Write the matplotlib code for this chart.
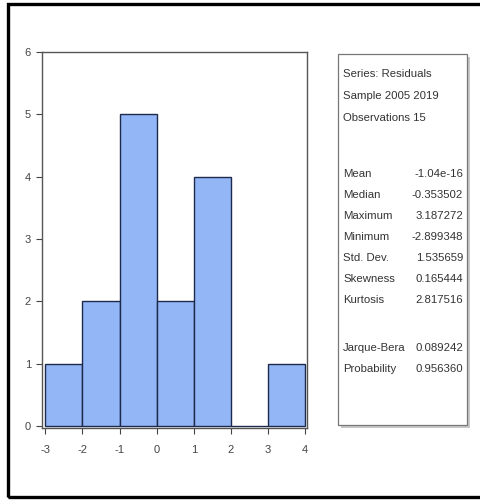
import matplotlib
matplotlib.use("Agg")
import matplotlib.pyplot as plt
from matplotlib.patches import Rectangle

plt.rcParams["font.family"] = ["Liberation Sans Narrow", "Liberation Sans", "DejaVu Sans"]

# histogram of residuals (bin edges and counts)
bin_edges = [-3, -2, -1, 0, 1, 2, 3, 4]
counts = [1, 2, 5, 2, 4, 0, 1]

header_lines = ["Series: Residuals", "Sample 2005 2019", "Observations 15"]
stat_names = ["Mean", "Median", "Maximum", "Minimum", "Std. Dev.", "Skewness", "Kurtosis"]
stat_values = ["-1.04e-16", "-0.353502", "3.187272", "-2.899348", "1.535659", "0.165444", "2.817516"]
test_names = ["Jarque-Bera", "Probability"]
test_values = ["0.089242", "0.956360"]

BAR_COLOR = "#93b6f6"
EDGE_COLOR = "#1d2a4c"
TEXT_COLOR = "#333333"

fig = plt.figure(figsize=(4.8, 5.0), dpi=100)
fig.patch.set_facecolor("white")

# outer frame
fig.add_artist(Rectangle((8 / 480, 3 / 500), 1.2, 493 / 500, transform=fig.transFigure,
                         fill=False, edgecolor="black", linewidth=2.4, clip_on=False))

ax = fig.add_axes([42 / 480, 1 - 428 / 500, 265 / 480, 376 / 500])
widths = [b - a for a, b in zip(bin_edges[:-1], bin_edges[1:])]
ax.bar(bin_edges[:-1], counts, width=widths, align="edge", color=BAR_COLOR,
       edgecolor=EDGE_COLOR, linewidth=1.0, zorder=2)

ax.set_xlim(-3.09, 4.05)
ax.set_ylim(-0.03, 6)
ax.set_xticks(bin_edges)
ax.set_xticklabels([str(v) for v in bin_edges])
ax.set_yticks(range(0, 7))
ax.tick_params(axis="both", labelsize=8, colors="#444444", direction="out", length=4, width=0.8)
ax.tick_params(axis="x", pad=8)
ax.tick_params(axis="y", pad=4)
for sp in ax.spines.values():
    sp.set_color("#555555")
    sp.set_linewidth(1.0)

# statistics box with a soft shadow
fig.add_artist(Rectangle((341 / 480, 1 - 428 / 500), 129 / 480, 371 / 500, transform=fig.transFigure,
                         facecolor="#c8c8c8", edgecolor="none", zorder=1))
fig.add_artist(Rectangle((338 / 480, 1 - 425 / 500), 129 / 480, 371 / 500, transform=fig.transFigure,
                         facecolor="white", edgecolor="#777777", linewidth=0.9, zorder=2))

x_lab = 343 / 480
x_val = 463 / 480
fs = 8.2
y = 74
for line in header_lines:
    fig.text(x_lab, 1 - y / 500, line, fontsize=fs, color=TEXT_COLOR, va="center", zorder=3)
    y += 22
y = 174
for name, val in zip(stat_names, stat_values):
    fig.text(x_lab, 1 - y / 500, name, fontsize=fs, color=TEXT_COLOR, va="center", zorder=3)
    fig.text(x_val, 1 - y / 500, val, fontsize=fs, color=TEXT_COLOR, va="center", ha="right", zorder=3)
    y += 21
y = 348
for name, val in zip(test_names, test_values):
    fig.text(x_lab, 1 - y / 500, name, fontsize=fs, color=TEXT_COLOR, va="center", zorder=3)
    fig.text(x_val, 1 - y / 500, val, fontsize=fs, color=TEXT_COLOR, va="center", ha="right", zorder=3)
    y += 21

fig.savefig("out.png", dpi=100, facecolor="white")
